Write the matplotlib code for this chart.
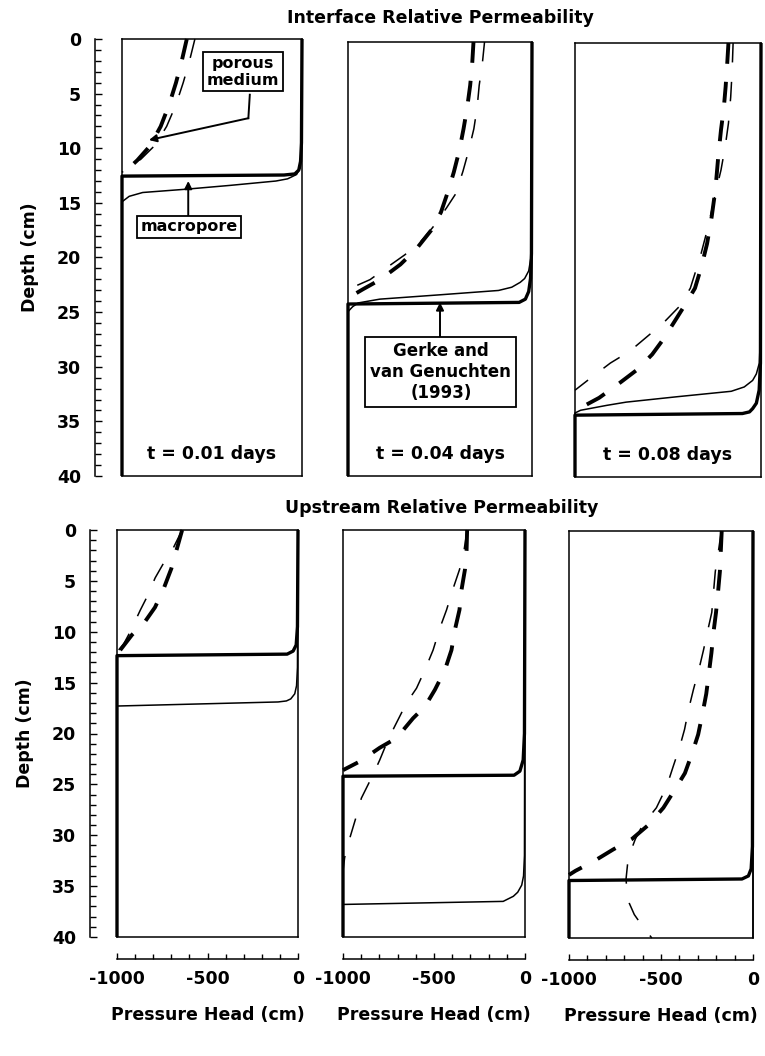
import numpy as np
import matplotlib.pyplot as plt
from matplotlib.ticker import MultipleLocator, FixedLocator

plt.rcParams['font.family'] = ['DejaVu Sans']
plt.rcParams['font.weight'] = 'bold'
plt.rcParams['axes.labelweight'] = 'bold'
plt.rcParams['axes.unicode_minus'] = False
plt.rcParams['lines.scale_dashes'] = False

W, H = 765, 1056

# pressure head h (cm) versus depth z (cm)
# mac = macropore (solid), pm = porous medium (dashed); thick / thin = two models

# --- interface relative permeability, t = 0.01 days
if1_mac_thick_h = [0, -3, -8, -18, -40, -100, -1000, -1000]
if1_mac_thick_z = [0, 9.5, 11.2, 12.0, 12.35, 12.45, 12.55, 40]
if1_mac_thin_h = [0, -3, -10, -30, -80, -145, -400, -645, -885, -960, -1000, -1000]
if1_mac_thin_z = [0, 10, 11.8, 12.4, 12.8, 13.0, 13.4, 13.75, 14.05, 14.4, 14.9, 40]
if1_pm_thick_h = [-640, -668, -700, -738, -785, -845, -915, -1000]
if1_pm_thick_z = [0, 2, 4, 6, 8, 9.8, 11.1, 12.4]
if1_pm_thin_h = [-595, -625, -660, -700, -752, -815, -895, -1000]
if1_pm_thin_z = [0, 2, 4, 6, 8, 9.7, 11.0, 12.2]

# --- interface relative permeability, t = 0.04 days
if4_mac_thick_h = [0, -3, -8, -18, -36, -70, -1000, -1000]
if4_mac_thick_z = [0, 19.5, 21.8, 23.0, 23.7, 24.0, 24.15, 40]
if4_mac_thin_h = [0, -5, -18, -40, -64, -110, -182, -500, -827, -945, -975, -1000, -1000]
if4_mac_thin_z = [0, 19.8, 21.1, 21.8, 22.15, 22.6, 22.9, 23.3, 23.7, 24.05, 24.4, 24.85, 40]
if4_pm_thick_h = [-318, -325, -336, -352, -372, -395, -425, -455, -495, -550, -630, -715, -825, -920, -1000]
if4_pm_thick_z = [0, 2, 4, 6, 8, 10, 12, 13.7, 15.7, 17.4, 19.1, 20.5, 21.9, 22.8, 23.6]
if4_pm_thin_h = [-258, -270, -287, -298, -316, -344, -375, -415, -465, -540, -600, -690, -790, -880, -1000]
if4_pm_thin_z = [0, 2, 4, 6, 8, 10, 11.9, 14.0, 15.3, 17.1, 18.3, 19.6, 20.8, 21.9, 22.8]

# --- interface relative permeability, t = 0.08 days
if8_mac_thick_h = [0, -3, -10, -25, -45, -62, -100, -1000, -1000]
if8_mac_thick_z = [0, 29.5, 32.0, 33.2, 33.7, 34.0, 34.15, 34.3, 40]
if8_mac_thin_h = [0, -3, -9, -25, -45, -90, -160, -450, -725, -830, -970, -1000, -1000]
if8_mac_thin_z = [0, 27, 29.5, 30.5, 31.1, 31.7, 32.1, 32.6, 33.1, 33.4, 33.85, 34.1, 40]
if8_pm_thick_h = [-175, -182, -190, -200, -215, -230, -245, -265, -290, -320, -355, -400, -455, -525,
                  -585, -665, -765, -870, -1000]
if8_pm_thick_z = [0, 2, 4, 6, 8, 10.5, 13.5, 16, 18.5, 20.6, 22.6, 23.9, 25.4, 27.3,
                  28.7, 30.1, 31.4, 32.7, 33.9]
if8_pm_thin_h = [-150, -155, -163, -175, -192, -215, -240, -262, -290, -325, -380, -440, -525, -615,
                 -705, -810, -910, -1000]
if8_pm_thin_z = [0, 2.5, 5, 7.4, 9.5, 11.7, 13.5, 15.2, 17.3, 19.6, 22.6, 24.3, 25.8, 27.1,
                 28.4, 29.5, 30.8, 32.0]

# --- upstream relative permeability, t = 0.01 days
up1_mac_thick_h = [0, -3, -10, -27, -60, -1000, -1000]
up1_mac_thick_z = [0, 9.5, 11.3, 11.9, 12.2, 12.35, 40]
up1_mac_thin_h = [0, -3, -8, -18, -40, -64, -110, -1000, -1000]
up1_mac_thin_z = [0, 13.5, 15.3, 16.1, 16.6, 16.8, 16.9, 17.3, 40]
up1_pm_thick_h = [-640, -670, -700, -743, -790, -853, -917, -982, -1000]
up1_pm_thick_z = [0, 1.9, 3.8, 5.8, 7.6, 9.2, 10.3, 11.8, 12.2]
up1_pm_thin_h = [-640, -690, -744, -789, -835, -872, -927, -963, -1000]
up1_pm_thin_z = [0, 1.8, 3.3, 4.7, 6.6, 7.9, 10.0, 11.2, 12.0]

# --- upstream relative permeability, t = 0.04 days
up4_mac_thick_h = [0, -3, -10, -28, -60, -1000, -1000]
up4_mac_thick_z = [0, 20, 22.6, 23.7, 24.1, 24.2, 40]
up4_mac_thin_h = [0, -3, -8, -18, -40, -64, -120, -1000, -1000]
up4_mac_thin_z = [0, 32, 34.0, 34.9, 35.6, 36.0, 36.5, 36.8, 40]
up4_pm_thick_h = [-318, -321, -330, -349, -360, -385, -404, -440, -495, -550, -615, -706, -798, -908, -1000]
up4_pm_thick_z = [0, 2, 3.9, 5.9, 7.85, 9.8, 11.8, 13.75, 15.7, 17.35, 18.5, 20.45, 21.4, 22.75, 23.6]
up4_pm_thin_h = [-318, -335, -360, -394, -431, -468, -505, -550, -596, -651, -716, -752, -798, -835,
                 -899, -927, -963, -991, -1000]
up4_pm_thin_z = [0, 2, 3.9, 5.7, 7.85, 9.65, 11.8, 13.75, 15.55, 17.0, 19.3, 20.6, 22.6, 24.05,
                 26.35, 28.15, 30.3, 32.2, 33.5]

# --- upstream relative permeability, t = 0.08 days
up8_mac_thick_h = [0, -3, -10, -25, -60, -1000, -1000]
up8_mac_thick_z = [0, 31, 33.2, 33.9, 34.2, 34.35, 40]
up8_mac_thin_h = [-2, -2]
up8_mac_thin_z = [0, 40]
up8_pm_thick_h = [-170, -175, -180, -190, -201, -215, -226, -240, -254, -275, -298, -330, -370, -424,
                  -487, -569, -660, -760, -860, -965, -1000]
up8_pm_thick_z = [0, 2, 4, 6, 8, 10, 12, 14, 16, 18, 20, 21.8, 23.8, 25.4,
                  27.2, 28.9, 30.3, 31.3, 32.4, 33.4, 33.8]
up8_pm_thin_h = [-172, -188, -205, -224, -245, -269, -290, -324, -351, -372, -398, -433, -469, -525,
                 -600, -640, -665, -682, -690, -686, -672, -645, -610, -550]
up8_pm_thin_z = [0, 2, 4, 8, 9.7, 11.7, 13.3, 15.6, 17.6, 19.5, 21.2, 23.1, 25.1, 27.2,
                 28.9, 30.3, 31.5, 32.8, 34.2, 35.2, 36.6, 37.7, 38.6, 40]

times = ['t = 0.01 days', 't = 0.04 days', 't = 0.08 days']

panels_top = [
    (if1_mac_thick_h, if1_mac_thick_z, if1_mac_thin_h, if1_mac_thin_z,
     if1_pm_thick_h, if1_pm_thick_z, if1_pm_thin_h, if1_pm_thin_z),
    (if4_mac_thick_h, if4_mac_thick_z, if4_mac_thin_h, if4_mac_thin_z,
     if4_pm_thick_h, if4_pm_thick_z, if4_pm_thin_h, if4_pm_thin_z),
    (if8_mac_thick_h, if8_mac_thick_z, if8_mac_thin_h, if8_mac_thin_z,
     if8_pm_thick_h, if8_pm_thick_z, if8_pm_thin_h, if8_pm_thin_z),
]
panels_bot = [
    (up1_mac_thick_h, up1_mac_thick_z, up1_mac_thin_h, up1_mac_thin_z,
     up1_pm_thick_h, up1_pm_thick_z, up1_pm_thin_h, up1_pm_thin_z),
    (up4_mac_thick_h, up4_mac_thick_z, up4_mac_thin_h, up4_mac_thin_z,
     up4_pm_thick_h, up4_pm_thick_z, up4_pm_thin_h, up4_pm_thin_z),
    (up8_mac_thick_h, up8_mac_thick_z, up8_mac_thin_h, up8_mac_thin_z,
     up8_pm_thick_h, up8_pm_thick_z, up8_pm_thin_h, up8_pm_thin_z),
]

# panel boxes in pixels: left, top, right, bottom
boxes_top = [(122, 39, 302, 476), (348, 42, 532, 476), (575, 43, 761, 477)]
boxes_bot = [(117, 530, 298, 937), (343, 530, 525, 937), (569, 531, 753, 938)]

FS = 12.5

fig = plt.figure(figsize=(W / 100, H / 100), dpi=100)


def make_ax(box):
    l, t, r, b = box
    ax = fig.add_axes([l / W, 1 - b / H, (r - l) / W, (b - t) / H])
    ax.set_xlim(-1000, 0)
    ax.set_ylim(40, 0)
    ax.tick_params(left=False, bottom=False, labelleft=False, labelbottom=False)
    for s in ax.spines.values():
        s.set_linewidth(1.1)
    return ax


def draw_profiles(ax, d):
    mth, mtz, mnh, mnz, pth, ptz, pnh, pnz = d
    kw = dict(color='black', clip_on=False, solid_capstyle='butt')
    ax.plot(mth, mtz, lw=2.4, **kw)
    ax.plot(mnh, mnz, lw=1.1, **kw)
    ax.plot(pth, ptz, lw=2.8, dashes=(15, 13), **kw)
    ax.plot(pnh, pnz, lw=1.1, dashes=(14, 14), **kw)


def depth_axis(ax, width_px, pos_px):
    sec = ax.secondary_yaxis(pos_px / width_px)
    sec.yaxis.set_major_locator(FixedLocator(range(0, 41, 5)))
    sec.yaxis.set_minor_locator(MultipleLocator(1))
    sec.tick_params(which='major', direction='in', length=5, width=1.0, labelsize=FS, pad=10)
    sec.tick_params(which='minor', direction='in', length=4, width=1.0)
    sec.spines['left'].set_linewidth(1.1)
    sec.set_ylabel('Depth (cm)', fontsize=FS, labelpad=13)
    return sec


def head_axis(ax, height_px):
    sec = ax.secondary_xaxis(-22 / height_px)
    sec.xaxis.set_major_locator(FixedLocator([-1000, -500, 0]))
    sec.xaxis.set_minor_locator(MultipleLocator(100))
    sec.tick_params(which='major', direction='in', length=4, width=1.0, labelsize=FS, pad=8)
    sec.tick_params(which='minor', direction='in', length=3.5, width=1.0)
    sec.spines['bottom'].set_linewidth(1.1)
    sec.set_xlabel('Pressure Head (cm)', fontsize=FS, labelpad=13)
    return sec


axes_top = []
for i, (box, d) in enumerate(zip(boxes_top, panels_top)):
    ax = make_ax(box)
    draw_profiles(ax, d)
    ax.text(0.5, 0.05, times[i], transform=ax.transAxes, ha='center', va='center', fontsize=FS)
    axes_top.append(ax)

axes_bot = []
for i, (box, d) in enumerate(zip(boxes_bot, panels_bot)):
    ax = make_ax(box)
    draw_profiles(ax, d)
    head_axis(ax, box[3] - box[1])
    axes_bot.append(ax)

depth_axis(axes_top[0], 180, -27)
depth_axis(axes_bot[0], 181, -27)

fig.text(440 / W, 1 - 18 / H, 'Interface Relative Permeability', ha='center', va='center', fontsize=FS)
fig.text(442 / W, 1 - 508 / H, 'Upstream Relative Permeability', ha='center', va='center', fontsize=FS)

# annotations
box_kw = dict(boxstyle='square,pad=0.22', fc='white', ec='black', lw=1.3)
arr_kw = dict(arrowstyle='-|>', color='black', lw=1.4, mutation_scale=11, shrinkA=0, shrinkB=0)

a = axes_top[0]
a.text(-327, 3.0, 'porous\nmedium', ha='center', va='center', fontsize=11.5,
       linespacing=1.15, bbox=box_kw, zorder=5)
a.plot([-290, -298], [5.1, 7.25], color='black', lw=1.4)
a.annotate('', xy=(-850, 9.25), xytext=(-298, 7.25), arrowprops=arr_kw)
a.text(-627, 17.2, 'macropore', ha='center', va='center', fontsize=11.5, bbox=box_kw, zorder=5)
a.annotate('', xy=(-632, 13.0), xytext=(-632, 16.2), arrowprops=arr_kw)

a = axes_top[1]
a.text(-495, 30.4, 'Gerke and\nvan Genuchten\n(1993)', ha='center', va='center', fontsize=12,
       linespacing=1.2, bbox=dict(boxstyle='square,pad=0.3', fc='white', ec='black', lw=1.3), zorder=5)
a.annotate('', xy=(-500, 24.0), xytext=(-500, 27.4), arrowprops=arr_kw)

fig.savefig('out.png', dpi=100, facecolor='white')
